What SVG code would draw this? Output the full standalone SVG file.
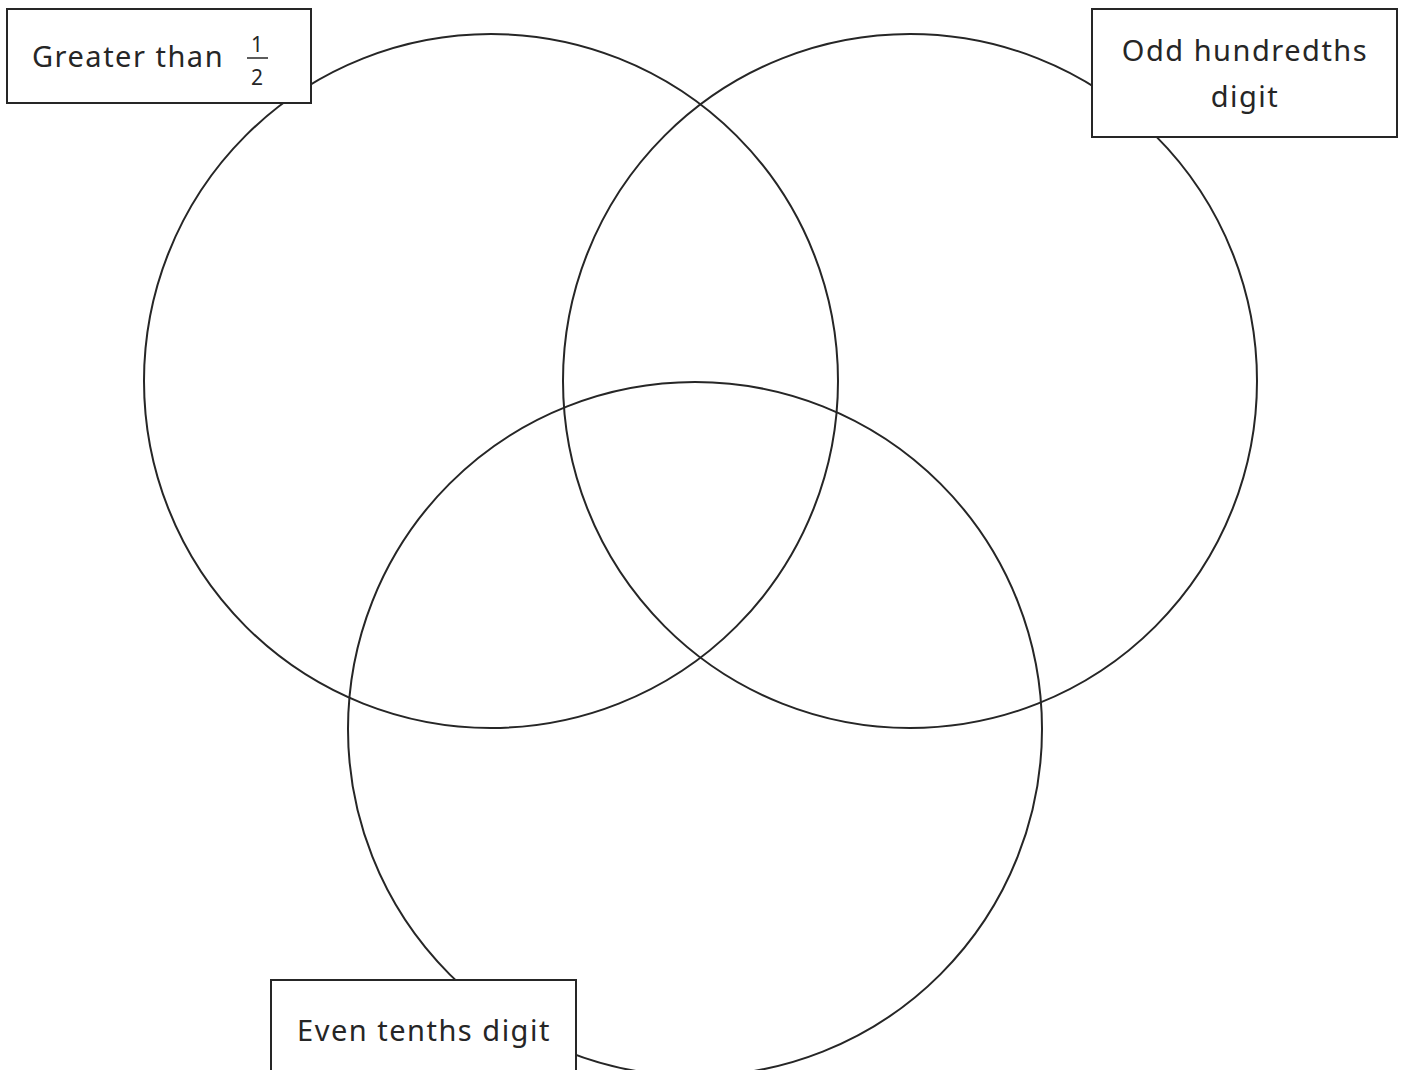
<svg xmlns="http://www.w3.org/2000/svg" width="1403" height="1070" viewBox="0 0 1403 1070">
<style>
.c{fill:none;stroke:#262626;stroke-width:2}
.b{fill:#fff;stroke:#262626;stroke-width:2}
.t{font-family:"Noto Sans","Open Sans",sans-serif;font-size:29px;letter-spacing:1.5px;fill:#262626}
.f{font-family:"Noto Sans","Open Sans",sans-serif;font-size:21px;fill:#262626}
</style>
<g id="circles">
<circle id="circle-left" class="c" cx="491" cy="381" r="347"/>
<circle id="circle-right" class="c" cx="910" cy="381" r="347"/>
<circle id="circle-bottom" class="c" cx="695" cy="729" r="347"/>
</g>
<g id="connectors"></g>
<g id="label-greater">
<rect class="b" x="7" y="9" width="304" height="94"/>
<text class="t" x="32" y="67">Greater than</text>
<text class="f" x="257" y="52" text-anchor="middle">1</text>
<line x1="247" y1="58" x2="268" y2="58" stroke="#262626" stroke-width="1.5"/>
<text class="f" x="257" y="85" text-anchor="middle">2</text>
</g>
<g id="label-odd">
<rect class="b" x="1092" y="9" width="305" height="128"/>
<text class="t" x="1245" y="61" text-anchor="middle">Odd hundredths</text>
<text class="t" x="1245" y="107" text-anchor="middle">digit</text>
</g>
<g id="label-even">
<rect class="b" x="271" y="980" width="305" height="100"/>
<text class="t" x="424" y="1041" text-anchor="middle">Even tenths digit</text>
</g>
</svg>
